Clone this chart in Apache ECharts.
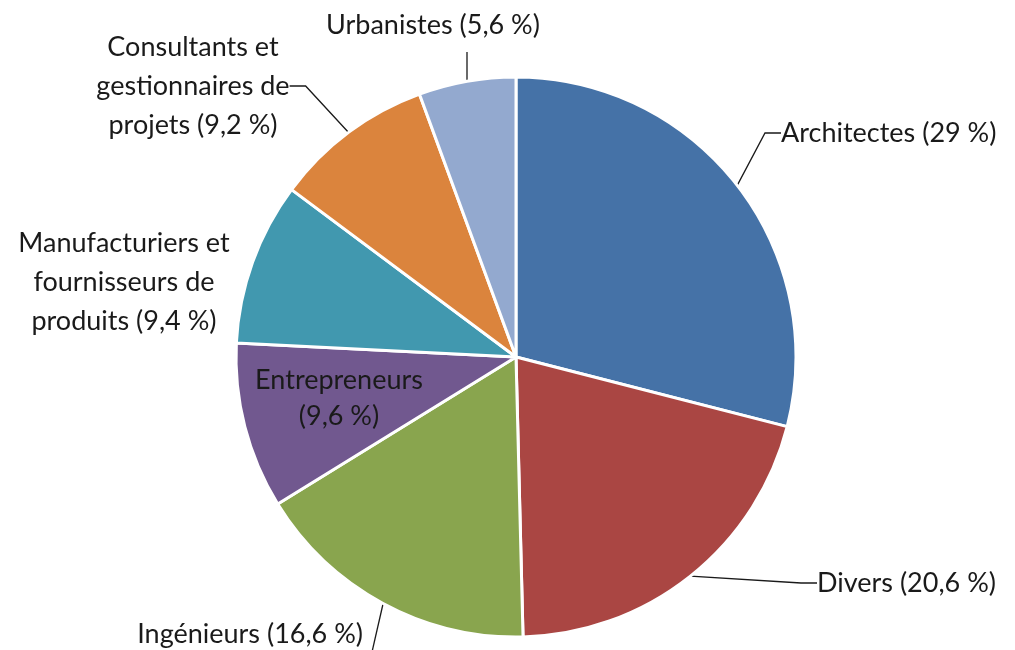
<!DOCTYPE html>
<html>
<head>
<meta charset="utf-8">
<script src="https://cdn.jsdelivr.net/npm/echarts@6/dist/echarts.min.js"></script>
<style>
  html, body { margin: 0; padding: 0; background: #ffffff; }
  #main { width: 1015px; height: 650px; }
</style>
</head>
<body>
<div id="main"></div>
<script>
// parts of the pie, clockwise from 12 o'clock
let names = ["Architectes", "Divers", "Ingénieurs", "Entrepreneurs",
  "Manufacturiers et\nfournisseurs de\nproduits", "Consultants et\ngestionnaires de\nprojets", "Urbanistes"];
let values = [29, 20.6, 16.6, 9.6, 9.4, 9.2, 5.6];
let color = ["#4572A7", "#AA4643", "#89A54E", "#71588F", "#4198AF", "#DB843D", "#93A9CF"];

// where each label sits (Excel put them by hand)
let labelPos = [
  { x: 781, y: 133, align: "left" },
  { x: 817, y: 583, align: "left" },
  { x: 363, y: 634, align: "right" },
  { x: 339, y: 398, align: "center" },
  { x: 124, y: 282, align: "center" },
  { x: 193, y: 86, align: "center" },
  { x: 433, y: 25, align: "center" }
];
// hand drawn leader lines in the original
let linePts = {
  2: [[383, 604], [372, 652]],
  6: [[467, 81], [467, 52]]
};

function fmt(v) {
  return String(v).replace(".", ",") + " %";
}

let chart = echarts.init(document.getElementById("main"), null, { renderer: "canvas" });

let data = [];
for (let i = 0; i < names.length; i++) {
  let item = { name: names[i], value: values[i] };
  if (i == 3) {
    item.label = { position: "inside", lineHeight: 36 };
    item.labelLine = { show: false };
  }
  if (i == 4) {
    item.labelLine = { show: false };
  }
  data.push(item);
}

chart.setOption({
  backgroundColor: "#ffffff",
  color: color,
  animation: false,
  series: [{
    type: "pie",
    center: [516, 357],
    radius: [0, 280],
    startAngle: 90,
    clockwise: true,
    avoidLabelOverlap: false,
    data: data,
    itemStyle: {
      borderColor: "#ffffff",
      borderWidth: 3
    },
    label: {
      show: true,
      position: "outside",
      fontFamily: "Lato",
      fontSize: 27,
      lineHeight: 39,
      color: "#1a1a1a",
      formatter: function (p) {
        if (p.dataIndex == 3) return p.name + "\n(" + fmt(p.value) + ")";
        return p.name + " (" + fmt(p.value) + ")";
      }
    },
    labelLine: {
      show: true,
      length: 20,
      length2: 16,
      smooth: false,
      lineStyle: { color: "#1a1a1a", width: 1.3 }
    },
    labelLayout: function (params) {
      let i = params.dataIndex;
      let p = labelPos[i];
      let res = {
        x: p.x,
        y: p.y,
        align: p.align,
        verticalAlign: "middle"
      };
      if (linePts[i]) res.labelLinePoints = linePts[i];
      return res;
    }
  }]
});
</script>
</body>
</html>
